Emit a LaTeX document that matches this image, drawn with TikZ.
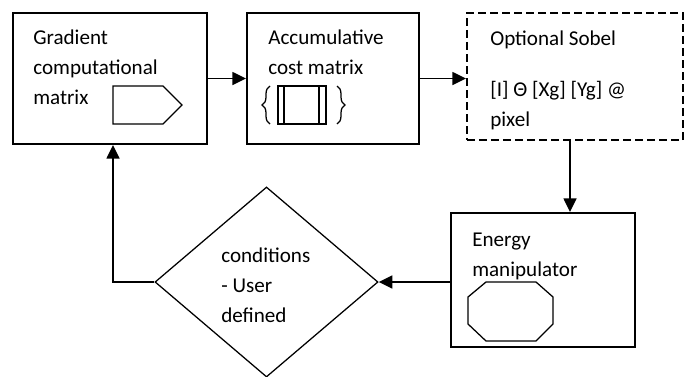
\documentclass[tikz,border=0pt]{standalone}
\usepackage{fontspec}
\setmainfont{Carlito}
\usetikzlibrary{shapes,arrows.meta,positioning,decorations.pathreplacing}

\begin{document}
\begin{tikzpicture}[x=0.025cm, y=-0.025cm,
	box/.style={draw, line width=1.4pt, inner sep=0pt},
	txt/.style={anchor=base west, align=left, inner sep=0pt, font=\fontsize{15}{21.3}\selectfont},
	glyph/.style={line width=0.9pt},
	flow/.style={line width=1.4pt, -{Triangle[length=0.34cm, width=0.32cm]}}]
	\useasboundingbox (0,0) rectangle (694,376);

	% blocks
	\node[box, minimum width=4.85cm, minimum height=3.275cm] (grad) at (110,78.5) {};
	\node[box, minimum width=4.3cm, minimum height=3.275cm] (accum) at (333,78.5) {};
	\node[box, dash pattern=on 0.2cm off 0.1cm, minimum width=5.4cm, minimum height=3.175cm] (sobel) at (575,76.5) {};
	\node[box, minimum width=4.6cm, minimum height=3.35cm] (energy) at (543,280) {};
	\node[draw, diamond, line width=0.9pt, inner sep=0pt, minimum width=5.575cm, minimum height=4.75cm] (cond) at (266.5,282) {};

	% texts (anchored at the last line)
	\node[txt] (gradtxt) at (33,104) {Gradient\\computational\\matrix};
	\node[txt] (accumtxt) at (268,74) {Accumulative\\cost matrix};
	\node[txt] (sobeltxt) at (490,126) {Optional Sobel\\[15pt][I] Θ [Xg] [Yg] @\\pixel};
	\node[txt] (energytxt) at (472,276) {Energy\\manipulator};
	\node[txt] (condtxt) at (221,322) {conditions\\- User\\defined};

	% small symbols
	\draw[glyph] (113,86) -- (163,86) -- (182,105) -- (163,124) -- (113,124) -- cycle;
	\draw[glyph] (278,86) rectangle (326,124);
	\draw[glyph] (284,86) -- (284,124);
	\draw[glyph] (319,86) -- (319,124);
	\draw[glyph, decorate, decoration={brace, amplitude=0.2cm}] (270,124) -- (270,86);
	\draw[glyph, decorate, decoration={brace, amplitude=0.2cm}] (337,86) -- (337,124);
	\draw[glyph] (486,282) -- (536,282) -- (553,297) -- (553,324) -- (536,341) -- (486,341) -- (468,324) -- (468,297) -- cycle;

	% connectors
	\draw[flow] (grad.east) -- (accum.west);
	\draw[flow] (accum.east) -- (accum.east -| sobel.west);
	\draw[flow] ([xshift=-0.125cm]sobel.south) -- ([xshift=-0.125cm]sobel.south |- energy.north);
	\draw[flow] (cond.east -| energy.west) -- (cond.east);
	\draw[flow] (cond.west) -| ([xshift=0.075cm]grad.south);
\end{tikzpicture}
\end{document}
